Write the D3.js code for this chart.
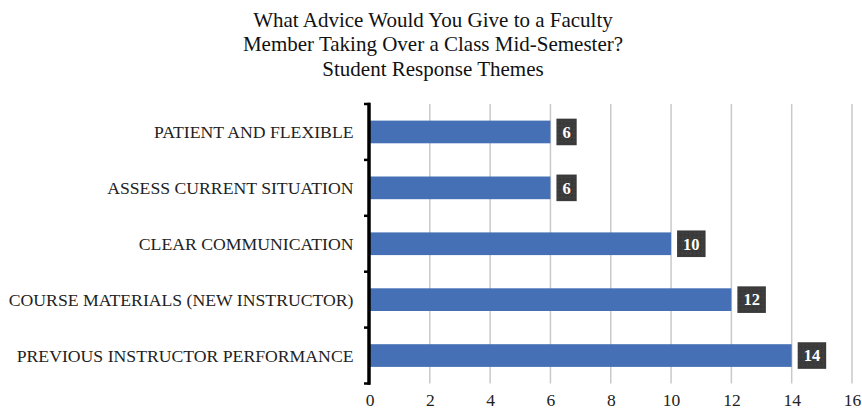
<!DOCTYPE html>
<html>
<head>
<meta charset="utf-8">
<script src="https://cdn.jsdelivr.net/npm/d3@7"></script>
<style>
  html, body { margin: 0; padding: 0; background: #fff; }
  svg { display: block; font-family: "Liberation Serif", "Times New Roman", serif; }
</style>
</head>
<body>
<svg id="chart" width="862" height="410"></svg>
<script>
// Survey themes, listed top to bottom
const themes = [
  "PATIENT AND FLEXIBLE",
  "ASSESS CURRENT SITUATION",
  "CLEAR COMMUNICATION",
  "COURSE MATERIALS (NEW INSTRUCTOR)",
  "PREVIOUS INSTRUCTOR PERFORMANCE"
];
const responseCounts = [6, 6, 10, 12, 14];
const xTicks = [0, 2, 4, 6, 8, 10, 12, 14, 16];
const titleLines = [
  "What Advice Would You Give to a Faculty",
  "Member Taking Over a Class Mid-Semester?",
  "Student Response Themes"
];

const svg = d3.select("#chart");
const plot = { left: 369.5, right: 852, top: 104, bottom: 383.5 };

// Texture for the value-label boxes
const defs = svg.append("defs");
const pat = defs.append("pattern")
  .attr("id", "lblTex").attr("width", 4).attr("height", 4)
  .attr("patternUnits", "userSpaceOnUse");
pat.append("rect").attr("width", 4).attr("height", 4).attr("fill", "#3b3b3b");
pat.append("rect").attr("x", 1).attr("y", 1).attr("width", 1).attr("height", 1).attr("fill", "#4a4a4a");
pat.append("rect").attr("x", 3).attr("y", 3).attr("width", 1).attr("height", 1).attr("fill", "#333");

// Title
svg.append("g").selectAll("text").data(titleLines).join("text")
  .attr("x", 433).attr("y", (d, i) => 26.5 + i * 24.7)
  .attr("text-anchor", "middle")
  .attr("font-size", 21).attr("fill", "#111")
  .text(d => d);

const x = d3.scaleLinear().domain([0, 16]).range([plot.left, plot.right]);
const y = d3.scaleBand().domain(themes).range([plot.top, plot.bottom]).paddingInner(0.594).paddingOuter(0.297);
const band = d3.scaleBand().domain(themes).range([plot.top, plot.bottom]);

// Vertical gridlines
svg.append("g").selectAll("line").data(xTicks.filter(t => t > 0)).join("line")
  .attr("x1", d => x(d)).attr("x2", d => x(d))
  .attr("y1", plot.top).attr("y2", plot.bottom)
  .attr("stroke", "#c9c9c9").attr("stroke-width", 1.5);

// X tick labels
const xAxis = d3.axisBottom(x).tickValues(xTicks).tickSize(0).tickPadding(0).tickFormat(d3.format("d"));
const gx = svg.append("g").attr("transform", `translate(0,${plot.bottom})`).call(xAxis);
gx.select(".domain").remove();
gx.selectAll("text")
  .attr("font-family", "Liberation Serif, serif")
  .attr("font-size", 17.5).attr("fill", "#222")
  .attr("dy", null).attr("y", 22.5);

// Bars
svg.append("g").selectAll("rect").data(themes).join("rect")
  .attr("x", x(0)).attr("y", d => y(d))
  .attr("width", (d, i) => x(responseCounts[i]) - x(0))
  .attr("height", y.bandwidth())
  .attr("fill", "#4570b6");

// Y axis: category labels and bracket ticks at band boundaries
const gy = svg.append("g");
gy.selectAll("text").data(themes).join("text")
  .attr("x", 353.5).attr("y", d => band(d) + band.bandwidth() / 2 + 6)
  .attr("text-anchor", "end")
  .attr("font-size", 17.7).attr("fill", "#222")
  .text(d => d);
const bounds = themes.map(d => band(d)).concat([plot.bottom]);
gy.selectAll("line.tk").data(bounds).join("line").attr("class", "tk")
  .attr("x1", 364).attr("x2", 370)
  .attr("y1", d => d).attr("y2", d => d)
  .attr("stroke", "#000").attr("stroke-width", 2.5);
gy.append("line")
  .attr("x1", 369).attr("x2", 369)
  .attr("y1", plot.top - 1.2).attr("y2", plot.bottom + 1.2)
  .attr("stroke", "#000").attr("stroke-width", 3.5);

// Value labels
const lbl = svg.append("g").selectAll("g").data(themes).join("g")
  .attr("transform", (d, i) => `translate(${x(responseCounts[i]) + 6},${y(d) + y.bandwidth() / 2})`);
lbl.append("text")
  .attr("font-size", 16.5).attr("font-weight", "bold").attr("fill", "#fff")
  .attr("dy", "0.35em")
  .text((d, i) => responseCounts[i]);
lbl.each(function () {
  const g = d3.select(this);
  const t = g.select("text");
  const w = t.node().getComputedTextLength();
  const padX = 6;
  g.insert("rect", "text")
    .attr("x", 0).attr("y", -13.3)
    .attr("width", w + padX * 2).attr("height", 26.6)
    .attr("fill", "url(#lblTex)");
  t.attr("x", padX);
});
</script>
</body>
</html>
